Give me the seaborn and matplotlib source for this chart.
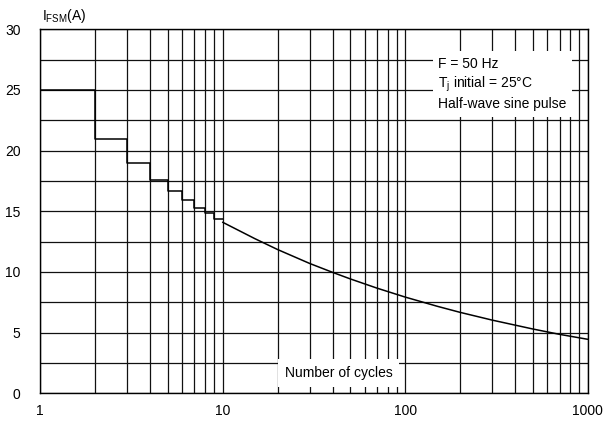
import numpy as np
import pandas as pd
import matplotlib
matplotlib.use("Agg")
import matplotlib.pyplot as plt
import seaborn as sns
from matplotlib.ticker import FixedLocator, NullFormatter, FixedFormatter

# Data
step_cycles = [1, 2, 3, 4, 5, 6, 7, 8, 9, 10]
step_current = [25.0, 21.0, 19.0, 17.6, 16.7, 15.95, 15.3, 14.85, 14.4, 14.4]
curve_cycles = [10, 15, 20, 30, 40, 50, 70, 100, 150, 200, 300, 500, 700, 1000]
curve_current = [14.1, 12.75, 11.85, 10.7, 9.97, 9.43, 8.67, 7.93, 7.17, 6.67, 6.03, 5.3, 4.86, 4.45]
x_ticks = [1, 10, 100, 1000]
x_ticklabels = ["1", "10", "100", "1000"]
y_ticks = [0, 5, 10, 15, 20, 25, 30]

sns.set_theme(style="white")
plt.rcParams['font.family'] = ['Liberation Sans', 'DejaVu Sans']

fig = plt.figure(figsize=(6.06, 4.23), dpi=100)
ax = fig.add_axes([0.066, 0.0702, 0.904, 0.8605])

step_df = pd.DataFrame({"cycles": step_cycles, "current": step_current})
curve_df = pd.DataFrame({"cycles": curve_cycles, "current": curve_current})

sns.lineplot(data=step_df, x="cycles", y="current", ax=ax, color="black",
             linewidth=1.1, drawstyle="steps-post", zorder=3)
sns.lineplot(data=curve_df, x="cycles", y="current", ax=ax, color="black",
             linewidth=1.1, zorder=3)

ax.set_xscale("log")
ax.set_xlim(1, 1000)
ax.set_ylim(0, 30)

minor_x = [m * 10**d for d in range(0, 3) for m in range(2, 10)]
ax.xaxis.set_major_locator(FixedLocator(x_ticks))
ax.xaxis.set_major_formatter(FixedFormatter(x_ticklabels))
ax.xaxis.set_minor_locator(FixedLocator(minor_x))
ax.xaxis.set_minor_formatter(NullFormatter())
ax.yaxis.set_major_locator(FixedLocator(y_ticks))
ax.yaxis.set_minor_locator(FixedLocator([2.5, 7.5, 12.5, 17.5, 22.5, 27.5]))

ax.grid(True, which="both", color="#111111", linewidth=0.9, zorder=1)
ax.set_axisbelow(True)
for s in ax.spines.values():
    s.set_color("black")
    s.set_linewidth(1.0)

ax.tick_params(axis="both", which="both", length=0, labelsize=10, colors="black")
ax.tick_params(axis="x", pad=8)
ax.tick_params(axis="y", pad=14)
ax.set_xlabel("")
ax.set_ylabel("")

ax.text(0.004, 1.012, r"I$_{\mathregular{FSM}}$(A)", transform=ax.transAxes,
        fontsize=10, ha="left", va="bottom", color="black")

ax.text(0.727, 0.925,
        "F = 50 Hz\n" + r"T$_{\mathregular{j}}$ initial = 25°C" + "\nHalf-wave sine pulse",
        transform=ax.transAxes, fontsize=10, ha="left", va="top", color="black",
        linespacing=1.3, zorder=5,
        bbox=dict(facecolor="white", edgecolor="none", pad=4))

ax.text(0.545, 0.055, "Number of cycles", transform=ax.transAxes, fontsize=10,
        ha="center", va="center", color="black", zorder=5,
        bbox=dict(facecolor="white", edgecolor="none", pad=5))

fig.savefig("out.png", dpi=100, facecolor="white")
